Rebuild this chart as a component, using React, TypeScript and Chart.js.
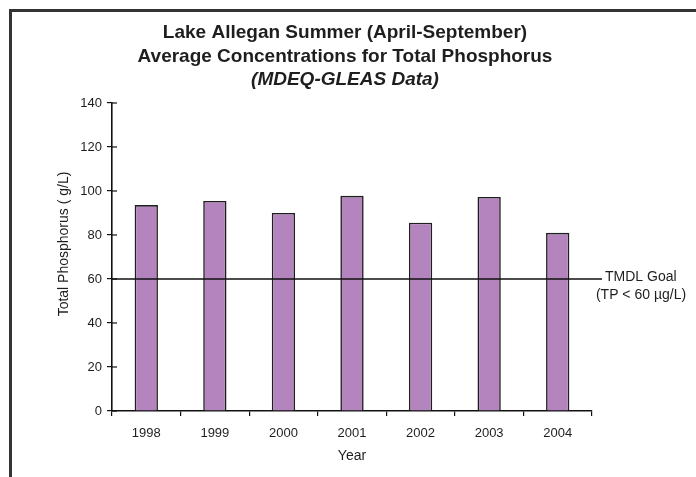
import { useEffect, useRef } from "react";
import { Chart, registerables } from "chart.js";

Chart.register(...registerables);

const years = ["1998", "1999", "2000", "2001", "2002", "2003", "2004"];
const phosphorus = [93.6, 95.5, 90, 97.8, 85.6, 97.3, 81];
const goalValue = 60;
const yMin = 0;
const yMax = 140;
const yStep = 20;
const titleLines = [
  "Lake Allegan Summer (April-September)",
  "Average Concentrations for Total Phosphorus",
];
const subtitleLine = "(MDEQ-GLEAS Data)";
const yTitle = "Total Phosphorus ( g/L)";
const xTitle = "Year";
const goalLabels = ["TMDL Goal", "(TP < 60 µg/L)"];

const FONT = "'Liberation Sans', Arial, sans-serif";
const INK = "#1e1e1e";

export default function App() {
  const ref = useRef<HTMLCanvasElement | null>(null);

  useEffect(() => {
    if (!ref.current) return;
    const overlay = {
      id: "overlay",
      afterDatasetsDraw(chart: any) {
        const ctx = chart.ctx as CanvasRenderingContext2D;
        const { left, right } = chart.chartArea;
        const y = chart.scales.y;
        ctx.save();
        // inner halves of y tick marks
        ctx.strokeStyle = "#111";
        ctx.lineWidth = 1.2;
        y.ticks.forEach((t: any) => {
          const py = y.getPixelForValue(t.value);
          ctx.beginPath();
          ctx.moveTo(left, py);
          ctx.lineTo(left + 5, py);
          ctx.stroke();
        });
        // goal line
        const gy = y.getPixelForValue(goalValue);
        ctx.lineWidth = 1.6;
        ctx.beginPath();
        ctx.moveTo(left, gy);
        ctx.lineTo(right + 10, gy);
        ctx.stroke();
        ctx.fillStyle = INK;
        ctx.font = `14px ${FONT}`;
        ctx.textBaseline = "middle";
        ctx.textAlign = "left";
        ctx.fillText(goalLabels[0], right + 13, gy - 2);
        ctx.textAlign = "center";
        ctx.fillText(goalLabels[1], right + 49, gy + 16);
        // titles
        const cx = 345;
        ctx.font = `bold 19px ${FONT}`;
        ctx.fillText(titleLines[0], cx, 33);
        ctx.fillText(titleLines[1], cx, 57);
        ctx.font = `italic bold 19px ${FONT}`;
        ctx.fillText(subtitleLine, cx, 80);
        // axis titles
        ctx.font = `14px ${FONT}`;
        ctx.fillText(xTitle, (left + right) / 2, 456);
        ctx.save();
        ctx.translate(64, 244);
        ctx.rotate(-Math.PI / 2);
        ctx.fillText(yTitle, 0, 0);
        ctx.restore();
        ctx.restore();
      },
    };

    const chart = new Chart(ref.current, {
      type: "bar",
      data: {
        labels: years,
        datasets: [
          {
            data: phosphorus,
            backgroundColor: "#b384be",
            borderColor: "#1f1f1f",
            borderWidth: 1.6,
            categoryPercentage: 1,
            barPercentage: 0.34,
          },
        ],
      },
      options: {
        responsive: false,
        animation: false,
        layout: { padding: { top: 103, right: 104, bottom: 0, left: 0 } },
        plugins: {
          legend: { display: false },
          tooltip: { enabled: false },
          title: { display: false },
        },
        scales: {
          x: {
            afterFit: (s: any) => {
              s.height = 66;
            },
            grid: {
              offset: true,
              drawOnChartArea: false,
              drawTicks: true,
              tickLength: 5,
              color: "#111",
              lineWidth: 1.2,
            },
            border: { display: true, color: "#111", width: 1.6 },
            ticks: {
              padding: 10,
              color: INK,
              font: { family: FONT, size: 13 },
            },
          },
          y: {
            min: yMin,
            max: yMax,
            afterFit: (s: any) => {
              s.width = 112;
            },
            grid: {
              drawOnChartArea: false,
              drawTicks: true,
              tickLength: 5,
              color: "#111",
              lineWidth: 1.2,
            },
            border: { display: true, color: "#111", width: 1.6 },
            ticks: {
              stepSize: yStep,
              padding: 5,
              color: INK,
              font: { family: FONT, size: 13 },
            },
          },
        },
      },
      plugins: [overlay],
    });
    return () => chart.destroy();
  }, []);

  return (
    <div style={{ position: "fixed", left: 0, top: 0, width: 696, height: 477, background: "#fff" }}>
      <canvas ref={ref} width={696} height={477} style={{ position: "absolute", left: 0, top: 0, width: 696, height: 477 }} />
      <div
        style={{
          position: "absolute",
          left: 9,
          top: 9,
          width: 690,
          height: 480,
          borderTop: "3px solid #333",
          borderLeft: "3px solid #333",
          pointerEvents: "none",
        }}
      />
    </div>
  );
}
